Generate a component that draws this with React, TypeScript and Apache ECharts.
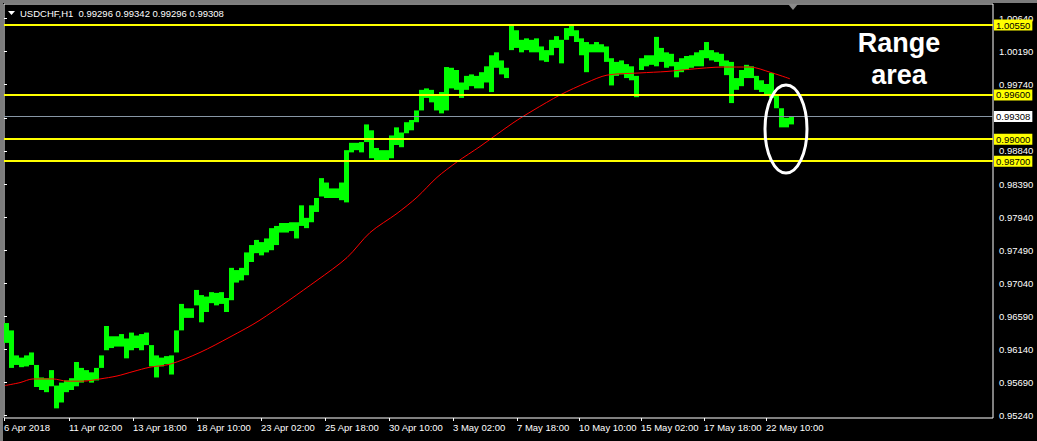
import React, { useEffect, useRef } from 'react';
import * as echarts from 'echarts';

// Price envelope per 5-bar bucket (H1 bars)
const BUCKET = 5;
const highs = [
  0.9650, 0.9640, 0.9606, 0.9603, 0.9606, 0.9610, 0.9593, 0.9576, 0.9575, 0.9586,
  0.9565, 0.9569, 0.9572, 0.9575, 0.9597, 0.9589, 0.9586, 0.9583, 0.9589, 0.9606,
  0.9646, 0.9632, 0.9632, 0.9635, 0.9629, 0.9637, 0.9633, 0.9635, 0.9637, 0.9620,
  0.9606, 0.9603, 0.9605, 0.9606, 0.9640, 0.9676, 0.9670, 0.9670, 0.9695, 0.9688,
  0.9686, 0.9692, 0.9691, 0.9692, 0.9684, 0.9725, 0.9722, 0.9725, 0.9746, 0.9756,
  0.9763, 0.9760, 0.9765, 0.9779, 0.9782, 0.9786, 0.9786, 0.9787, 0.9787, 0.9810,
  0.9793, 0.9810, 0.9820, 0.9847, 0.9841, 0.9833, 0.9833, 0.9841, 0.9885, 0.9895,
  0.9895, 0.9896, 0.9920, 0.9912, 0.9888, 0.9885, 0.9885, 0.9905, 0.9916, 0.9909,
  0.9923, 0.9926, 0.9939, 0.9967, 0.9969, 0.9967, 0.9960, 0.9964, 0.9998, 0.9997,
  0.9994, 0.9977, 0.9986, 0.9988, 0.9986, 0.9991, 0.9999, 1.0014, 1.0018, 1.0007,
  0.9997, 1.0055, 1.0048, 1.0035, 1.0037, 1.0035, 1.0037, 1.0026, 1.0021, 1.0035,
  1.0040, 1.0035, 1.0051, 1.0055, 1.0048, 1.0037, 1.0032, 1.0029, 1.0032, 1.0029,
  1.0026, 1.0010, 1.0005, 1.0007, 1.0002, 0.9999, 0.9986, 1.0010, 1.0014, 1.0014,
  1.0039, 1.0024, 1.0018, 1.0016, 1.0005, 1.0010, 1.0013, 1.0014, 1.0018, 1.0021,
  1.0032, 1.0021, 1.0018, 1.0016, 1.0007, 1.0005, 0.9983, 0.9994, 1.0001, 0.9999,
  0.9986, 0.9980, 0.9975, 0.9990, 0.9960, 0.9942, 0.9929, 0.9931,
];
const lows = [
  0.9623, 0.9589, 0.9593, 0.9590, 0.9591, 0.9593, 0.9563, 0.9559, 0.9556, 0.9564,
  0.9534, 0.9542, 0.9556, 0.9559, 0.9564, 0.9569, 0.9572, 0.9569, 0.9572, 0.9589,
  0.9613, 0.9616, 0.9618, 0.9618, 0.9602, 0.9613, 0.9616, 0.9613, 0.9620, 0.9591,
  0.9576, 0.9591, 0.9594, 0.9580, 0.9610, 0.9640, 0.9657, 0.9657, 0.9674, 0.9651,
  0.9665, 0.9677, 0.9674, 0.9676, 0.9665, 0.9681, 0.9705, 0.9708, 0.9715, 0.9733,
  0.9745, 0.9742, 0.9746, 0.9749, 0.9756, 0.9773, 0.9773, 0.9775, 0.9765, 0.9782,
  0.9779, 0.9787, 0.9801, 0.9822, 0.9820, 0.9820, 0.9820, 0.9817, 0.9814, 0.9882,
  0.9885, 0.9882, 0.9896, 0.9874, 0.9871, 0.9871, 0.9871, 0.9874, 0.9892, 0.9889,
  0.9908, 0.9912, 0.9923, 0.9939, 0.9956, 0.9950, 0.9939, 0.9935, 0.9939, 0.9969,
  0.9967, 0.9956, 0.9967, 0.9972, 0.9969, 0.9969, 0.9977, 0.9964, 0.9997, 0.9988,
  0.9983, 1.0021, 1.0024, 1.0018, 1.0021, 1.0018, 1.0018, 1.0007, 1.0005, 1.0014,
  1.0024, 1.0003, 1.0035, 1.0040, 1.0032, 1.0014, 0.9991, 1.0018, 1.0018, 1.0018,
  1.0005, 0.9973, 0.9986, 0.9988, 0.9983, 0.9980, 0.9957, 0.9994, 0.9999, 1.0001,
  0.9999, 1.0005, 0.9997, 0.9999, 0.9984, 0.9991, 0.9994, 0.9997, 0.9999, 0.9999,
  1.0010, 1.0007, 1.0005, 0.9999, 0.9987, 0.9949, 0.9967, 0.9972, 0.9983, 0.9983,
  0.9967, 0.9964, 0.9961, 0.9956, 0.9942, 0.9916, 0.9916, 0.9920,
];

// Moving average (red), bar index -> value
const maBars = [1, 16, 29, 49, 63, 79, 96, 113, 129, 146, 166, 196, 226, 256, 313, 343, 366, 393, 413, 433, 453, 476, 509, 529, 556, 583, 603, 636, 663, 686, 719, 746, 766, 786];
const maValues = [0.9565, 0.9569, 0.9574, 0.9574, 0.9571, 0.9571, 0.9574, 0.9578, 0.9584, 0.9590, 0.9594, 0.9610, 0.9631, 0.9654, 0.9708, 0.9739, 0.9773, 0.9799, 0.9821, 0.9848, 0.9869, 0.9890, 0.9922, 0.9939, 0.9960, 0.9977, 0.9987, 0.9990, 0.9992, 0.9995, 0.9998, 0.9998, 0.9991, 0.9982];

// Axis ticks
const xTickBars = [0, 65, 129, 193, 257, 321, 385, 449, 513, 575, 637, 700, 762];
const xTickLabels = ['6 Apr 2018', '11 Apr 02:00', '13 Apr 18:00', '18 Apr 10:00', '23 Apr 02:00', '25 Apr 18:00', '30 Apr 10:00', '3 May 02:00', '7 May 18:00', '10 May 10:00', '15 May 02:00', '17 May 18:00', '22 May 10:00'];
const yTickValues = [0.9524, 0.9569, 0.9614, 0.9659, 0.9704, 0.9749, 0.9794, 0.9839, 0.9884, 0.9929, 0.9974, 1.0019, 1.0064];
// 0.99290 is hidden under the current-price box in the reference
const yLabelValues = [0.9524, 0.9569, 0.9614, 0.9659, 0.9704, 0.9749, 0.9794, 0.9839, 0.9884, 0.9974, 1.0019, 1.0064];

// Horizontal levels
const levelValues = [1.0055, 0.996, 0.99, 0.987];
const currentPrice = 0.99308;
const titleText = 'USDCHF,H1  0.99296 0.99342 0.99296 0.99308';
const noteLines = ['Range', 'area'];

export default function App() {
  const ref = useRef<HTMLDivElement>(null);
  useEffect(() => {
    const chart = echarts.init(ref.current!, null, { renderer: 'svg' });
    const font = 'Liberation Sans';
    const bars = highs.map((h, i) => [i * BUCKET + BUCKET / 2, lows[i], h]);
    const ma = maBars.map((b, i) => [b, maValues[i]]);
    const markData: any[] = [
      ...levelValues.map((v) => ({
        yAxis: v,
        lineStyle: { color: '#ffff00', width: 2, type: 'solid' },
        label: { backgroundColor: '#ffff00', color: '#000000' },
      })),
      {
        yAxis: currentPrice,
        lineStyle: { color: '#8796a5', width: 1, type: 'solid' },
        label: { backgroundColor: '#ffffff', color: '#000000' },
      },
    ];
    chart.setOption({
      animation: false,
      backgroundColor: '#000000',
      grid: { left: 4, right: 44, top: 4, bottom: 23, show: true, borderColor: '#ffffff', borderWidth: 1, backgroundColor: 'transparent' },
      xAxis: {
        type: 'value', min: 0, max: 989,
        axisLine: { show: false }, splitLine: { show: false },
        axisTick: { show: true, customValues: xTickBars, length: 3, lineStyle: { color: '#ffffff' } },
        axisLabel: {
          customValues: xTickBars,
          formatter: (v: number) => { const k = xTickBars.indexOf(v); return k >= 0 ? xTickLabels[k] : ''; },
          color: '#ffffff', fontFamily: font, fontSize: 9.5, align: 'left', margin: 4,
        },
      },
      yAxis: {
        type: 'value', position: 'right', min: 0.95209, max: 1.00837, scale: true,
        axisLine: { show: false }, splitLine: { show: false },
        axisTick: { show: true, customValues: yTickValues, length: 3, lineStyle: { color: '#ffffff' } },
        axisLabel: {
          customValues: yLabelValues,
          formatter: (v: number) => v.toFixed(5),
          color: '#ffffff', fontFamily: font, fontSize: 9.5, margin: 6,
        },
      },
      series: [
        {
          type: 'custom',
          data: bars,
          encode: { x: 0, y: [1, 2] },
          clip: true,
          z: 2,
          renderItem: (params: any, api: any) => {
            const x = api.value(0);
            const lo = api.value(1);
            const hi = api.value(2);
            const p1 = api.coord([x, hi]);
            const p2 = api.coord([x, lo]);
            const w = api.size([BUCKET, 0])[0];
            return {
              type: 'rect',
              shape: { x: p1[0] - w / 2, y: p1[1], width: w, height: Math.max(1, p2[1] - p1[1]) },
              style: { fill: '#00ff00' },
            };
          },
        },
        {
          type: 'line',
          data: ma,
          symbol: 'none',
          showSymbol: false,
          smooth: 0.3,
          z: 3,
          lineStyle: { color: '#ff0000', width: 1 },
          markLine: {
            symbol: 'none',
            silent: true,
            precision: 5,
            z: 5,
            label: {
              show: true, position: 'end', distance: 1,
              formatter: (p: any) => Number(p.value).toFixed(5),
              fontFamily: font, fontSize: 9.5, padding: [1, 2, 0, 2], lineHeight: 10,
            },
            data: markData,
          },
        },
      ],
      graphic: [
        { type: 'rect', shape: { x: 0, y: 0, width: 3, height: 441 }, style: { fill: '#7c7c7c' }, silent: true },
        { type: 'rect', shape: { x: 0, y: 0, width: 1037, height: 3 }, style: { fill: '#7c7c7c' }, silent: true },
        { type: 'polygon', shape: { points: [[8, 11], [15, 11], [11.5, 15]] }, style: { fill: '#ffffff' }, silent: true },
        { type: 'text', x: 20, y: 13, style: { text: titleText, fill: '#ffffff', fontFamily: font, fontSize: 9.5, verticalAlign: 'middle', align: 'left' }, silent: true },
        { type: 'polygon', shape: { points: [[788, 4], [798, 4], [793, 10]] }, style: { fill: '#8a8a8a' }, silent: true },
        { type: 'ellipse', shape: { cx: 786, cy: 129, rx: 21, ry: 44 }, style: { stroke: '#ffffff', lineWidth: 3, fill: 'transparent' }, silent: true, z: 10 },
        {
          type: 'text', x: 899, y: 27, z: 10,
          style: { text: noteLines.join('\n'), fill: '#ffffff', fontFamily: font, fontWeight: 'bold', fontSize: 27, lineHeight: 32, align: 'center', verticalAlign: 'top' },
          silent: true,
        },
      ],
    });
    return () => chart.dispose();
  }, []);
  return <div ref={ref} style={{ position: 'fixed', left: 0, top: 0, width: 1037, height: 441 }} />;
}
